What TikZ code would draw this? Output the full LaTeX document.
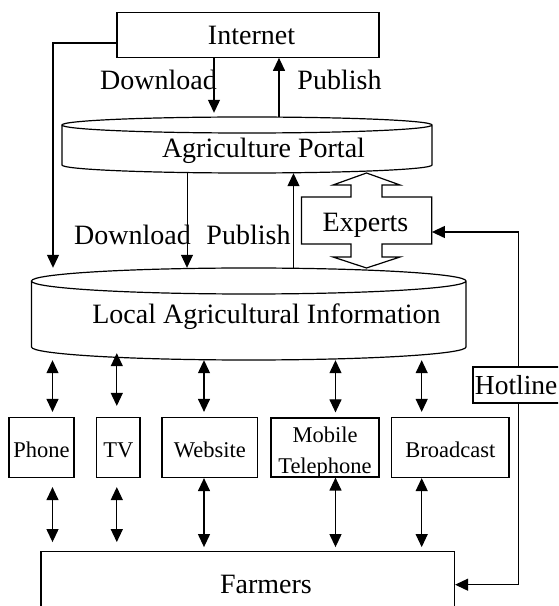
\documentclass[tikz,border=0pt]{standalone}
\usepackage{fontspec}
\setmainfont{Liberation Serif}
\usetikzlibrary{arrows.meta,calc,positioning}

\tikzset{
  box/.style={draw, line width=1.2pt, inner sep=0pt},
  bigtxt/.style={font=\fontsize{28}{30}\selectfont, inner sep=0pt},
  devbox/.style={box, minimum height=60, font=\fontsize{22.5}{31}\selectfont,
    text height=20pt, text depth=0pt},
  devtxt/.style={font=\fontsize{22.5}{31}\selectfont, inner sep=0pt, align=center},
  arr/.style={line width=1.2pt, -{Triangle[length=13pt,width=12pt]}},
  dbl/.style={line width=1.2pt, {Triangle[length=13pt,width=12pt]}-{Triangle[length=13pt,width=12pt]}},
}
% left, right, top, bottom, depth of the rim
\newcommand{\drum}[5]{%
  \draw[line width=1.2pt] (#1,#3-#5) -- (#1,#4+#5)
    arc[start angle=180,end angle=360,x radius={(#2-#1)/2},y radius=#5]
    -- (#2,#3-#5)
    arc[start angle=0,end angle=360,x radius={(#2-#1)/2},y radius=#5];}

\begin{document}
\begin{tikzpicture}[x=1pt,y=1pt]
\useasboundingbox (0,0) rectangle (558,606);
\clip (0,0) rectangle (558,606);

% sources
\node[box, minimum width=262, minimum height=44.5] (internet) at (248,571) {};
\node[bigtxt] (internet-lbl) at (251.5,571) {Internet};

\drum{62}{432}{489}{433}{8}
\node[minimum width=370, minimum height=56] (portal) at (247,461) {};
\node[bigtxt] (portal-lbl) at (263.5,455) {Agriculture Portal};

\drum{31.5}{466}{338}{246}{13}
\node[minimum width=434.5, minimum height=92] (local) at (248.75,292) {};
\node[bigtxt] (local-lbl) at (266.5,289) {Local Agricultural Information};

% experts, up/down block arrow
\draw[line width=1.2pt] (301.5,409) -- (351,409) -- (351,421) -- (333,421) -- (366.5,433)
  -- (400,421) -- (382,421) -- (382,409) -- (431.7,409) -- (431.7,362) -- (382,362)
  -- (382,349) -- (400,349) -- (366.5,338) -- (333,349) -- (351,349) -- (351,362)
  -- (301.5,362) -- cycle;
\node[minimum width=130.2, minimum height=47] (experts) at (366.6,385.5) {};
\node[bigtxt] (experts-lbl) at (365.5,381) {Experts};

\node[box, anchor=west, text width=84, inner xsep=2pt, minimum height=36,
  font=\fontsize{27.5}{28}\selectfont] (hotline) at (472.3,221) {Hotline};

% media
\node[devbox, minimum width=65] (phone) at (41.5,158.5) {Phone};
\node[devbox, minimum width=43.3] (tv) at (118.35,158.5) {TV};
\node[devbox, minimum width=95.7] (website) at (209.85,158.5) {Website};
\node[box, minimum width=108, minimum height=59] (mobile) at (325,158.5) {};
\node[devtxt] (mobile-lbl) at (325,153.5) {Mobile\\Telephone};
\node[devbox, minimum width=117.3] (broadcast) at (450.35,158.5) {Broadcast};

\node[box, minimum width=413.5, minimum height=74] (farmers) at (247.75,17.3) {};
\node[bigtxt] (farmers-lbl) at (266,22) {Farmers};

% arrow columns
\coordinate (xd) at (214,0);
\coordinate (xp) at (279,0);
\coordinate (xl) at (53,0);
\coordinate (xpd) at (187,0);
\coordinate (xpu) at (293.5,0);
\coordinate (xh) at (518.5,0);
\coordinate (a1) at (52.5,0);
\coordinate (a2) at (116.8,0);
\coordinate (a3) at (204,0);
\coordinate (a4) at (335.5,0);
\coordinate (a5) at (421.7,0);

% internet <-> portal
\draw[arr, shorten >=4pt] (xd |- internet.south) -- (xd |- portal.north);
\draw[arr] (xp |- portal.north) -- (xp |- internet.south);
\node[bigtxt] (dl-top) at (158.5,526) {Download};
\node[bigtxt] (pub-top) at (339.5,526) {Publish};

\draw[arr] ([yshift=-8pt]internet.west) -| (xl |- local.north);

% portal <-> local
\draw[line width=0.8pt, -{Triangle[length=13pt,width=12pt]}] (xpd |- portal.south) -- (xpd |- local.north);
\draw[arr] (xpu |- local.north) -- (xpu |- portal.south);
\node[bigtxt] (dl-low) at (132.5,371) {Download};
\node[bigtxt] (pub-low) at (248.5,371) {Publish};

% hotline
\draw[arr] (xh |- hotline.north) |- ([yshift=-11.5pt]experts.east);
\draw[arr] (xh |- hotline.south) |- ([yshift=4pt]farmers.east);

% local <-> media
\draw[dbl, shorten >=5pt] (a1 |- local.south) -- (a1 |- phone.north);
\draw[dbl, shorten <=-7pt, shorten >=11pt] (a2 |- local.south) -- (a2 |- tv.north);
\draw[dbl, shorten >=5pt] (a3 |- local.south) -- (a3 |- website.north);
\draw[dbl, shorten >=5pt] (a4 |- local.south) -- (a4 |- mobile.north);
\draw[dbl, shorten >=5pt] (a5 |- local.south) -- (a5 |- broadcast.north);

% media <-> farmers
\draw[dbl, shorten <=9pt, shorten >=9pt] (a1 |- phone.south) -- (a1 |- farmers.north);
\draw[dbl, shorten <=9pt, shorten >=9pt] (a2 |- tv.south) -- (a2 |- farmers.north);
\draw[dbl, shorten >=4pt] (a3 |- website.south) -- (a3 |- farmers.north);
\draw[dbl, shorten >=4pt] (a4 |- mobile.south) -- (a4 |- farmers.north);
\draw[dbl, shorten >=4pt] (a5 |- broadcast.south) -- (a5 |- farmers.north);
\end{tikzpicture}
\end{document}
